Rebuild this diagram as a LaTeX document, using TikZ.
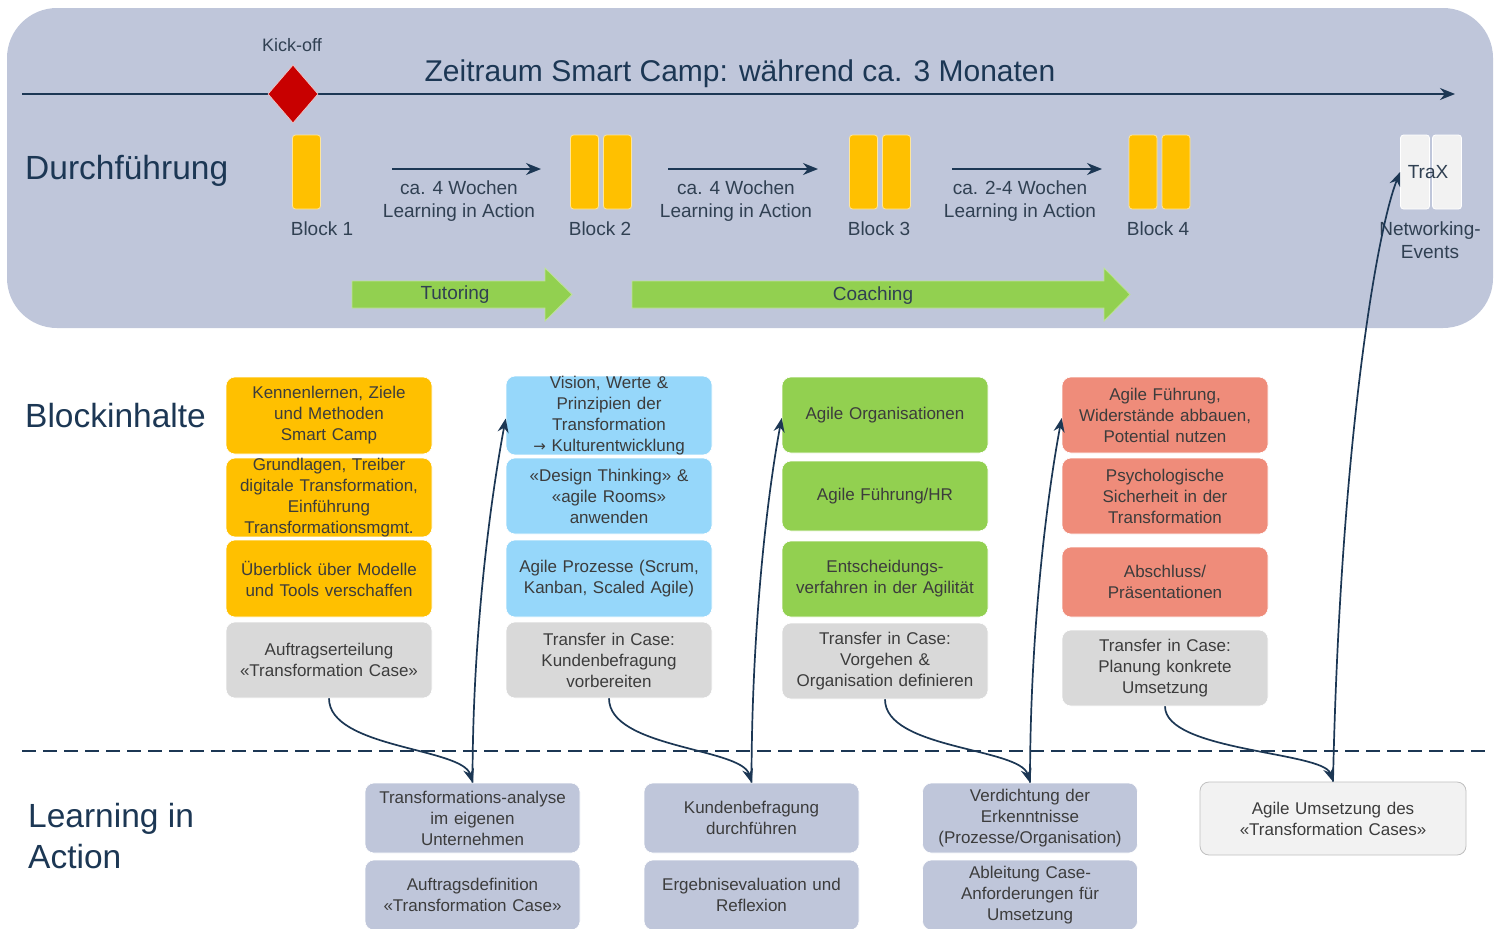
\documentclass[tikz,border=0pt]{standalone}
\usepackage{fontspec}
\setmainfont{Liberation Sans}
\newfontfamily\arrowfont{DejaVu Sans}
\usetikzlibrary{shapes.geometric,arrows.meta}
\definecolor{bgc}{RGB}{191,198,218}
\definecolor{navy}{RGB}{28,55,84}
\definecolor{slate}{RGB}{48,64,82}
\definecolor{boxtext}{RGB}{60,60,60}
\definecolor{ylw}{RGB}{255,192,0}
\definecolor{sky}{RGB}{150,215,250}
\definecolor{grn}{RGB}{146,208,80}
\definecolor{salmon}{RGB}{239,140,122}
\definecolor{lgray}{RGB}{217,217,217}
\definecolor{wgray}{RGB}{242,242,242}
\definecolor{kickred}{RGB}{200,0,0}
\tikzset{
  heading/.style={anchor=west, text=navy, font=\fontsize{33.5}{41}\selectfont, inner sep=0, align=left},
  lbl/.style={text=slate, font=\fontsize{19}{23}\selectfont, inner sep=0, align=center},
  blk/.style={fill=ylw, draw=ylw!40!white, line width=0.8, rounded corners=3, minimum width=28, minimum height=74, inner sep=0},
  trx/.style={fill=wgray, draw=white, line width=0.8, rounded corners=3, minimum width=29, minimum height=74, inner sep=0},
  cbox/.style={rounded corners=9, minimum width=206, text width=200, align=center, font=\fontsize{17}{21}\selectfont, text=boxtext, inner sep=0, draw=white, line width=0.6},
  bbox/.style={rounded corners=9, minimum width=215, minimum height=70, text width=210, align=center, font=\fontsize{17}{21}\selectfont, text=boxtext, inner sep=0, fill=bgc, draw=white, line width=0.6},
  conn/.style={navy, line width=1.7pt, -{Stealth[length=14pt,width=11pt]}},
  tline/.style={navy, line width=1.9pt, -{Stealth[length=15pt,width=12pt]}},
  garrow/.style={fill=grn, draw=grn!60!white, line width=0.8},
}
\begin{document}
\begin{tikzpicture}[x=1pt,y=-1pt]
\useasboundingbox (0,0) rectangle (1502,929);
% background panel
\fill[bgc, rounded corners=50] (7,8) rectangle (1493,328);

% timeline
\coordinate (tl0) at (22,94);
\coordinate (tl1) at (1455,94);
\draw[tline] (tl0) -- (tl1);
\node[diamond, fill=kickred, draw=white!80!kickred, line width=0.6, minimum width=50, minimum height=58, inner sep=0] (kick) at (293,94) {};
\node[lbl, font=\fontsize{18}{22}\selectfont] (kicklbl) at (292,45) {Kick-off};
\node[text=navy, font=\fontsize{30}{34}\selectfont, inner sep=0] (title) at (740,74) {Zeitraum Smart Camp: während ca. 3 Monaten};

\node[heading] (durch) at (25,171) {Durchführung};

% blocks
\node[blk] (b1a) at (306.5,172) {};
\node[lbl] (b1l) at (322,229) {Block 1};
\node[blk] (b2a) at (584.5,172) {};
\node[blk] (b2b) at (617.5,172) {};
\node[lbl] (b2l) at (600,229) {Block 2};
\node[blk] (b3a) at (863.5,172) {};
\node[blk] (b3b) at (896.5,172) {};
\node[lbl] (b3l) at (879,229) {Block 3};
\node[blk] (b4a) at (1143,172) {};
\node[blk] (b4b) at (1176,172) {};
\node[lbl] (b4l) at (1158,229) {Block 4};
\node[trx] (tx1) at (1415,172) {};
\node[trx] (tx2) at (1447,172) {};
\node[lbl] (trax) at (1428,172) {TraX};
\node[lbl] (netw) at (1430,240) {Networking-\\Events};

% small interval arrows
\coordinate (i1a) at (392,169); \coordinate (i1b) at (541,169);
\coordinate (i2a) at (668,169); \coordinate (i2b) at (818,169);
\coordinate (i3a) at (952,169); \coordinate (i3b) at (1102,169);
\draw[tline, line width=1.7pt] (i1a) -- (i1b);
\draw[tline, line width=1.7pt] (i2a) -- (i2b);
\draw[tline, line width=1.7pt] (i3a) -- (i3b);
\node[lbl] (i1l) at (459,201) {ca. 4 Wochen\\Learning in Action};
\node[lbl] (i2l) at (736,201) {ca. 4 Wochen\\Learning in Action};
\node[lbl] (i3l) at (1020,201) {ca. 2-4 Wochen\\Learning in Action};

% green arrows
\draw[garrow] (352,281) -- (545,281) -- (545,268) -- (572,294.5) -- (545,321) -- (545,308) -- (352,308) -- cycle;
\node[lbl, text=slate] (tut) at (455,295) {Tutoring};
\draw[garrow] (632,281) -- (1104,281) -- (1104,268) -- (1130,294.5) -- (1104,321) -- (1104,308) -- (632,308) -- cycle;
\node[lbl, text=slate] (coa) at (873,296) {Coaching};

% headings
\node[heading] (blockinh) at (25,416) {Blockinhalte};
\node[heading] (lia) at (28,836) {Learning in\\Action};

% column 1
\node[cbox, fill=ylw, minimum height=77] (c1a) at (329,415.5) {Kennenlernen, Ziele\\und Methoden\\Smart Camp};
\node[cbox, fill=ylw, minimum height=77] (c1b) at (329,497.5) {Grundlagen, Treiber\\digitale Transformation,\\Einführung\\Transformationsmgmt.};
\node[cbox, fill=ylw, minimum height=77] (c1c) at (329,578.5) {Überblick über Modelle\\und Tools verschaffen};
\node[cbox, fill=lgray, minimum height=76] (c1d) at (329,660) {Auftragserteilung\\«Transformation Case»};
% column 2
\node[cbox, fill=sky, minimum height=77] (c2a) at (609,415.5) {Vision, Werte \&\\Prinzipien der\\Transformation\\{\arrowfont\fontsize{15}{21}\selectfont →} Kulturentwicklung};
\node[cbox, fill=sky, minimum height=76] (c2b) at (609,496) {«Design Thinking» \&\\«agile Rooms»\\anwenden};
\node[cbox, fill=sky, minimum height=77] (c2c) at (609,578.5) {Agile Prozesse (Scrum,\\Kanban, Scaled Agile)};
\node[cbox, fill=lgray, minimum height=76] (c2d) at (609,660) {Transfer in Case:\\Kundenbefragung\\vorbereiten};
% column 3
\node[cbox, fill=grn, minimum height=76] (c3a) at (885,415) {Agile Organisationen};
\node[cbox, fill=grn, minimum height=70] (c3b) at (885,496) {Agile Führung/HR};
\node[cbox, fill=grn, minimum height=76] (c3c) at (885,579) {Entscheidungs-\\verfahren in der Agilität};
\node[cbox, fill=lgray, minimum height=76] (c3d) at (885,661) {Transfer in Case:\\Vorgehen \&\\Organisation definieren};
% column 4
\node[cbox, fill=salmon, minimum height=76] (c4a) at (1165,415) {Agile Führung,\\Widerstände abbauen,\\Potential nutzen};
\node[cbox, fill=salmon, minimum height=76] (c4b) at (1165,496) {Psychologische\\Sicherheit in der\\Transformation};
\node[cbox, fill=salmon, minimum height=70] (c4c) at (1165,582) {Abschluss/\\Präsentationen};
\node[cbox, fill=lgray, minimum height=76] (c4d) at (1165,668) {Transfer in Case:\\Planung konkrete\\Umsetzung};

% dashed separator
\coordinate (d0) at (22,751); \coordinate (d1) at (1485,751);
\draw[navy, line width=1.7pt, dash pattern=on 14pt off 7pt] (d0) -- (d1);

% bottom boxes
\node[bbox] (l1a) at (472.5,818) {Transformations-analyse\\im eigenen\\Unternehmen};
\node[bbox] (l1b) at (472.5,895) {Auftragsdefinition\\«Transformation Case»};
\node[bbox] (l2a) at (751.5,818) {Kundenbefragung\\durchführen};
\node[bbox] (l2b) at (751.5,895) {Ergebnisevaluation und\\Reflexion};
\node[bbox] (l3a) at (1030,818) {Verdichtung der\\Erkenntnisse\\(Prozesse/Organisation)};
\node[bbox] (l3b) at (1030,895) {Ableitung Case-\\Anforderungen für\\Umsetzung};
\node[bbox, fill=wgray, draw=black!25, line width=0.8, minimum width=266, text width=250, minimum height=73] (l4a) at (1333,818.5) {Agile Umsetzung des\\«Transformation Cases»};

% connectors
\draw[conn] (c1d.south) .. controls +(0,50) and +(-10,-35) .. (l1a.north);
\draw[conn] (l1a.north) .. controls +(0,-150) and +(-15,80) .. ([yshift=-3pt]c2a.west);
\draw[conn] (c2d.south) .. controls +(0,50) and +(-10,-35) .. (l2a.north);
\draw[conn] (l2a.north) .. controls +(0,-150) and +(-15,80) .. ([yshift=-3pt]c3a.west);
\draw[conn] (c3d.south) .. controls +(0,50) and +(-10,-35) .. (l3a.north);
\draw[conn] (l3a.north) .. controls +(0,-150) and +(-15,80) .. ([yshift=-3pt]c4a.west);
\draw[conn] (c4d.south) .. controls +(0,45) and +(-10,-30) .. (l4a.north);
\draw[conn] (l4a.north) .. controls +(7,-330) and +(-24,60) .. (tx1.west);
\end{tikzpicture}
\end{document}
